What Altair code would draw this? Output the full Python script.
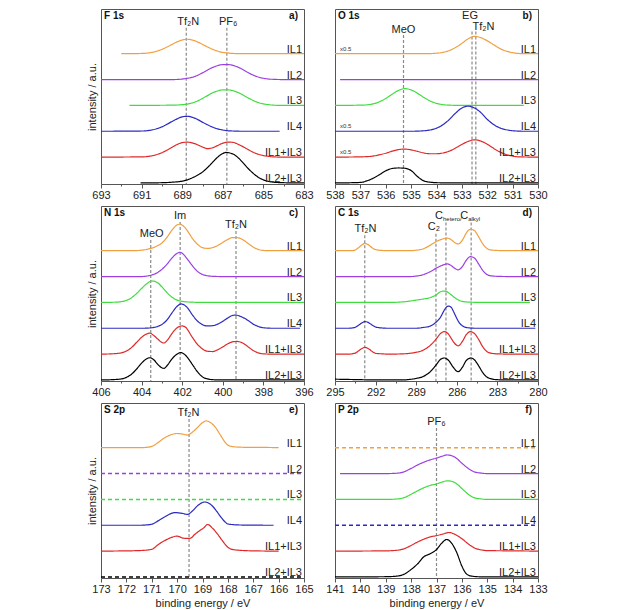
import altair as alt
import pandas as pd

SERIES = ["IL1", "IL2", "IL3", "IL4", "IL1+IL3", "IL2+IL3"]
OFFSETS = [5, 4, 3, 2, 1, 0]
COLORS = ["#f0a040", "#9b40e0", "#40dd40", "#2a2ac0", "#e02828", "#000000"]

PANEL_KEYS = ["F1s", "O1s", "N1s", "C1s", "S2p", "P2p"]
PANEL_NAMES = ["F 1s", "O 1s", "N 1s", "C 1s", "S 2p", "P 2p"]
PANEL_LETTERS = ["a)", "b)", "c)", "d)", "e)", "f)"]
X_DOMAINS = [[693, 683], [538, 530], [406, 396], [295, 280], [173, 165], [141, 133]]
X_TICKS = [
    [693, 691, 689, 687, 685, 683],
    [538, 537, 536, 535, 534, 533, 532, 531, 530],
    [406, 404, 402, 400, 398, 396],
    [295, 292, 289, 286, 283, 280],
    [173, 172, 171, 170, 169, 168, 167, 166, 165],
    [141, 140, 139, 138, 137, 136, 135, 134, 133],
]
X_MINOR_TICKS = [
    [692, 690, 688, 686, 684],
    [537.5, 536.5, 535.5, 534.5, 533.5, 532.5, 531.5, 530.5],
    [405, 403, 401, 399, 397],
    [293.5, 290.5, 287.5, 284.5, 281.5],
    [172.5, 171.5, 170.5, 169.5, 168.5, 167.5, 166.5, 165.5],
    [140.5, 139.5, 138.5, 137.5, 136.5, 135.5, 134.5, 133.5],
]

# ---- F 1s ----
F1S_IL1 = [(692.0, 0), (691.0, 0.01), (690.5, 0.05), (690.25, 0.1), (690.0, 0.17), (689.75, 0.26), (689.5, 0.36), (689.25, 0.46), (689.0, 0.53), (688.75, 0.56), (688.5, 0.53), (688.25, 0.46), (688.0, 0.36), (687.75, 0.26), (687.5, 0.17), (687.25, 0.1), (687.0, 0.05), (686.75, 0.03), (686.5, 0.01), (686.0, 0), (683.0, 0)]
F1S_IL2 = [(693, 0), (689.5, 0), (689, 0.02), (688.75, 0.05), (688.5, 0.09), (688.25, 0.16), (688, 0.26), (687.75, 0.37), (687.5, 0.47), (687.25, 0.54), (687, 0.58), (686.75, 0.58), (686.5, 0.55), (686.25, 0.48), (686, 0.38), (685.75, 0.27), (685.5, 0.17), (685.25, 0.1), (685, 0.05), (684.75, 0.02), (684.5, 0.01), (684, 0), (683, 0)]
F1S_IL3 = [(691.6, 0), (689.5, 0.01), (689, 0.03), (688.75, 0.05), (688.5, 0.1), (688.25, 0.17), (688, 0.27), (687.75, 0.38), (687.5, 0.49), (687.25, 0.56), (687, 0.6), (686.75, 0.6), (686.5, 0.57), (686.25, 0.5), (686, 0.4), (685.75, 0.29), (685.5, 0.19), (685.25, 0.11), (685, 0.06), (684.75, 0.03), (684.5, 0.01), (684, 0), (683, 0)]
F1S_IL4 = [(693, 0), (691, 0.01), (690.5, 0.05), (690.25, 0.1), (690, 0.17), (689.75, 0.27), (689.5, 0.38), (689.25, 0.48), (689, 0.56), (688.75, 0.58), (688.5, 0.54), (688.25, 0.46), (688, 0.35), (687.75, 0.25), (687.5, 0.16), (687.25, 0.09), (687, 0.05), (686.75, 0.02), (686.5, 0.01), (686, 0), (684.2, 0)]
F1S_IL1IL3 = [(693, 0), (691, 0.01), (690.5, 0.05), (690.25, 0.1), (690, 0.17), (689.75, 0.27), (689.5, 0.38), (689.25, 0.49), (689, 0.56), (688.75, 0.58), (688.5, 0.55), (688.25, 0.48), (688, 0.39), (687.75, 0.33), (687.5, 0.36), (687.25, 0.45), (687, 0.54), (686.75, 0.58), (686.5, 0.57), (686.25, 0.5), (686, 0.4), (685.75, 0.29), (685.5, 0.19), (685.25, 0.11), (685, 0.06), (684.75, 0.03), (684.5, 0.01), (684, 0), (683, 0)]
F1S_IL2IL3 = [(691.05, 0), (690, 0.01), (689.5, 0.03), (689, 0.07), (688.75, 0.12), (688.5, 0.2), (688.25, 0.3), (688, 0.42), (687.75, 0.6), (687.5, 0.8), (687.25, 1.0), (687, 1.14), (686.85, 1.18), (686.5, 1.12), (686.25, 0.98), (686, 0.78), (685.75, 0.56), (685.5, 0.37), (685.25, 0.22), (685, 0.12), (684.75, 0.06), (684.5, 0.03), (684, 0.01), (683, 0)]

# ---- O 1s ----
O1S_IL1 = [(538, 0), (534.5, 0), (534, 0.02), (533.75, 0.05), (533.5, 0.12), (533.25, 0.24), (533, 0.4), (532.75, 0.58), (532.5, 0.67), (532.25, 0.62), (532, 0.5), (531.75, 0.35), (531.5, 0.2), (531.25, 0.1), (531, 0.04), (530.75, 0.01), (530.5, 0), (530, 0)]
O1S_IL2 = [(537.8, 0), (530, 0)]
O1S_IL3 = [(538, 0), (537, 0.01), (536.75, 0.02), (536.5, 0.06), (536.25, 0.14), (536, 0.27), (535.75, 0.43), (535.5, 0.58), (535.25, 0.65), (535, 0.6), (534.75, 0.47), (534.5, 0.31), (534.25, 0.17), (534, 0.08), (533.75, 0.03), (533.5, 0.01), (533, 0), (530.56, 0)]
O1S_IL4 = [(538, 0), (535, 0), (534.5, 0.02), (534.25, 0.05), (534, 0.12), (533.75, 0.25), (533.5, 0.45), (533.25, 0.7), (533, 0.9), (532.75, 0.97), (532.5, 0.9), (532.25, 0.72), (532, 0.46), (531.75, 0.26), (531.5, 0.13), (531.25, 0.06), (531, 0.02), (530.5, 0), (530, 0)]
O1S_IL1IL3 = [(538, 0), (537, 0.01), (536.5, 0.04), (536.25, 0.09), (536, 0.15), (535.75, 0.23), (535.5, 0.29), (535.25, 0.31), (535, 0.28), (534.75, 0.22), (534.5, 0.16), (534.25, 0.13), (534, 0.13), (533.75, 0.16), (533.5, 0.23), (533.25, 0.35), (533, 0.49), (532.75, 0.61), (532.5, 0.67), (532.25, 0.62), (532, 0.5), (531.75, 0.34), (531.5, 0.2), (531.25, 0.1), (531, 0.04), (530.75, 0.01), (530, 0)]
O1S_IL2IL3 = [(538, 0), (537, 0.02), (536.75, 0.08), (536.5, 0.18), (536.25, 0.32), (536, 0.47), (535.75, 0.56), (535.5, 0.58), (535.25, 0.57), (535, 0.48), (534.75, 0.25), (534.5, 0.08), (534.25, 0.03), (534, 0.01), (533, 0), (530, 0)]

# ---- N 1s ----
N1S_IL1 = [(406, 0), (404.5, 0), (404, 0.02), (403.75, 0.05), (403.5, 0.1), (403.25, 0.18), (403, 0.3), (402.75, 0.52), (402.5, 0.8), (402.25, 1.0), (402.1, 1.03), (402, 0.99), (401.75, 0.78), (401.5, 0.48), (401.25, 0.25), (401, 0.12), (400.75, 0.09), (400.5, 0.12), (400.25, 0.2), (400, 0.32), (399.75, 0.44), (399.5, 0.51), (399.25, 0.5), (399, 0.42), (398.75, 0.28), (398.5, 0.14), (398.25, 0.05), (398, 0.01), (397.5, 0), (396, 0)]
N1S_IL2 = [(406, 0), (404, 0), (403.75, 0.02), (403.5, 0.06), (403.25, 0.14), (403, 0.28), (402.75, 0.48), (402.5, 0.72), (402.25, 0.9), (402.1, 0.94), (402, 0.9), (401.75, 0.68), (401.5, 0.42), (401.25, 0.2), (401, 0.08), (400.75, 0.03), (400.5, 0.01), (400, 0), (396, 0)]
N1S_IL3 = [(406, 0), (405.25, 0.01), (405, 0.03), (404.75, 0.08), (404.5, 0.18), (404.25, 0.34), (404, 0.54), (403.75, 0.72), (403.5, 0.83), (403.25, 0.78), (403, 0.6), (402.75, 0.38), (402.5, 0.2), (402.25, 0.09), (402, 0.04), (401.5, 0.01), (401, 0), (396, 0)]
N1S_IL4 = [(406, 0), (404, 0), (403.5, 0.02), (403.25, 0.06), (403, 0.15), (402.75, 0.32), (402.5, 0.6), (402.25, 0.85), (402.05, 0.94), (401.75, 0.8), (401.5, 0.52), (401.25, 0.28), (401, 0.14), (400.75, 0.09), (400.5, 0.1), (400.25, 0.16), (400, 0.27), (399.75, 0.4), (399.5, 0.5), (399.35, 0.51), (399.1, 0.45), (398.75, 0.3), (398.5, 0.16), (398.25, 0.07), (398, 0.02), (397.5, 0), (396.2, 0)]
N1S_IL1IL3 = [(406, 0), (405.5, 0.01), (405, 0.05), (404.75, 0.12), (404.5, 0.25), (404.25, 0.45), (404, 0.65), (403.75, 0.78), (403.6, 0.81), (403.4, 0.72), (403.2, 0.58), (403, 0.45), (402.9, 0.43), (402.75, 0.52), (402.5, 0.8), (402.25, 1.02), (402, 1.09), (401.85, 1.05), (401.5, 0.65), (401.25, 0.38), (401, 0.2), (400.75, 0.11), (400.5, 0.1), (400.25, 0.17), (400, 0.28), (399.75, 0.4), (399.5, 0.48), (399.3, 0.49), (399, 0.42), (398.75, 0.28), (398.5, 0.14), (398.25, 0.05), (398, 0.01), (397.5, 0), (396, 0)]
N1S_IL2IL3 = [(406, 0), (405.5, 0.01), (405, 0.04), (404.75, 0.1), (404.5, 0.22), (404.25, 0.42), (404, 0.65), (403.75, 0.82), (403.6, 0.86), (403.4, 0.78), (403.2, 0.6), (403, 0.47), (402.9, 0.45), (402.75, 0.55), (402.5, 0.82), (402.25, 1.0), (402.1, 1.06), (401.9, 1.0), (401.75, 0.88), (401.5, 0.6), (401.25, 0.32), (401, 0.12), (400.75, 0.04), (400.5, 0.01), (400, 0), (396, 0)]

# ---- C 1s ----
C1S_IL1 = [(295, 0), (293.75, 0), (293.5, 0.03), (293.25, 0.12), (293, 0.23), (292.8, 0.28), (292.5, 0.22), (292.25, 0.11), (292, 0.04), (291.5, 0.01), (291, 0), (289.5, 0), (289, 0.02), (288.5, 0.07), (288, 0.2), (287.5, 0.36), (287, 0.46), (286.7, 0.49), (286.4, 0.42), (286.1, 0.3), (285.9, 0.26), (285.6, 0.4), (285.3, 0.68), (285, 0.83), (284.7, 0.78), (284.4, 0.55), (284.1, 0.28), (283.8, 0.1), (283.5, 0.03), (283, 0.01), (282, 0), (280, 0)]
C1S_IL2 = [(295, 0), (289.5, 0), (289, 0.02), (288.5, 0.07), (288, 0.18), (287.5, 0.33), (287, 0.45), (286.7, 0.49), (286.4, 0.42), (286.1, 0.3), (285.9, 0.26), (285.6, 0.38), (285.3, 0.63), (285, 0.77), (284.7, 0.72), (284.4, 0.5), (284.1, 0.25), (283.8, 0.09), (283.5, 0.03), (283, 0.01), (282, 0), (280, 0)]
C1S_IL3 = [(295, 0), (291, 0), (290, 0.02), (289.5, 0.05), (289, 0.09), (288.5, 0.13), (288, 0.18), (287.5, 0.3), (287.25, 0.4), (287, 0.44), (286.8, 0.43), (286.5, 0.33), (286.2, 0.2), (285.9, 0.1), (285.6, 0.04), (285.3, 0.02), (285, 0.01), (284, 0), (280.6, 0)]
C1S_IL4 = [(295, 0), (294, 0), (293.5, 0.04), (293.25, 0.12), (293, 0.21), (292.8, 0.26), (292.6, 0.24), (292.3, 0.14), (292, 0.05), (291.5, 0.01), (291, 0), (289, 0), (288.5, 0.03), (288, 0.08), (287.5, 0.25), (287.2, 0.43), (287, 0.63), (286.8, 0.8), (286.6, 0.86), (286.4, 0.8), (286.2, 0.6), (286, 0.38), (285.8, 0.2), (285.5, 0.07), (285.2, 0.02), (284.5, 0), (280.2, 0)]
C1S_IL1IL3 = [(295, 0), (294, 0), (293.5, 0.04), (293.25, 0.13), (293, 0.22), (292.8, 0.26), (292.5, 0.2), (292.2, 0.08), (292, 0.03), (291.5, 0.01), (291, 0), (290, 0.01), (289.5, 0.03), (289, 0.07), (288.5, 0.15), (288, 0.32), (287.5, 0.6), (287.2, 0.8), (286.9, 0.87), (286.6, 0.76), (286.4, 0.6), (286.2, 0.44), (286, 0.34), (285.9, 0.32), (285.6, 0.48), (285.3, 0.75), (285, 0.87), (284.7, 0.8), (284.4, 0.58), (284.1, 0.3), (283.8, 0.11), (283.5, 0.04), (283, 0.01), (282, 0), (280, 0)]
C1S_IL2IL3 = [(295, 0.03), (294, 0.02), (293, 0.01), (292, 0), (290, 0), (289.5, 0.02), (289, 0.06), (288.5, 0.13), (288, 0.3), (287.5, 0.6), (287.2, 0.8), (286.9, 0.85), (286.6, 0.75), (286.3, 0.52), (286, 0.34), (285.9, 0.32), (285.6, 0.48), (285.3, 0.75), (284.95, 0.85), (284.7, 0.78), (284.4, 0.56), (284.1, 0.3), (283.8, 0.12), (283.5, 0.05), (283, 0.01), (282, 0), (280, 0)]

# ---- S 2p ----
S2P_IL1 = [(173, 0), (171.5, 0), (171.25, 0.01), (171, 0.05), (170.75, 0.2), (170.5, 0.38), (170.25, 0.5), (170, 0.55), (169.75, 0.52), (169.6, 0.49), (169.4, 0.6), (169.2, 0.78), (169, 0.97), (168.85, 1.04), (168.7, 0.98), (168.5, 0.8), (168.3, 0.5), (168.1, 0.2), (168, 0.1), (167.8, 0.04), (167.5, 0.02), (167, 0.01), (166.5, 0.01), (166, 0)]
S2P_IL2 = [(173, 0), (165, 0)]
S2P_IL3 = [(173, 0), (165, 0)]
S2P_IL4 = [(173, 0), (171.5, 0), (171.25, 0.01), (171, 0.04), (170.75, 0.17), (170.5, 0.32), (170.25, 0.45), (170.1, 0.49), (169.8, 0.46), (169.6, 0.42), (169.4, 0.55), (169.2, 0.75), (169, 0.88), (168.9, 0.9), (168.7, 0.82), (168.5, 0.62), (168.3, 0.35), (168.1, 0.12), (168, 0.05), (167.5, 0.01), (166.2, 0)]
S2P_IL1IL3 = [(173, 0), (172, 0.01), (171.5, 0.02), (171, 0.07), (170.75, 0.25), (170.5, 0.4), (170.25, 0.52), (170, 0.58), (169.75, 0.5), (169.5, 0.49), (169.3, 0.65), (169.1, 0.8), (168.95, 0.9), (168.8, 1.03), (168.6, 0.88), (168.4, 0.65), (168.2, 0.38), (168, 0.15), (167.8, 0.06), (167.5, 0.03), (167, 0.01), (166, 0)]
S2P_IL2IL3 = [(173, 0), (165, 0)]

# ---- P 2p ----
P2P_IL1 = [(141, 0), (133, 0)]
P2P_IL2 = [(140.8, 0), (139, 0), (138.5, 0.02), (138.25, 0.08), (138, 0.2), (137.75, 0.33), (137.5, 0.44), (137.25, 0.53), (137, 0.6), (136.75, 0.68), (136.6, 0.72), (136.4, 0.69), (136.2, 0.58), (136, 0.4), (135.75, 0.2), (135.5, 0.06), (135.25, 0.02), (135, 0), (133, 0)]
P2P_IL3 = [(141, 0), (139, 0), (138.5, 0.02), (138.25, 0.08), (138, 0.2), (137.75, 0.33), (137.5, 0.45), (137.25, 0.54), (137, 0.6), (136.75, 0.68), (136.6, 0.72), (136.4, 0.7), (136.2, 0.6), (136, 0.42), (135.75, 0.2), (135.5, 0.06), (135.25, 0.02), (135, 0), (133, 0)]
P2P_IL4 = [(141, 0), (133, 0)]
P2P_IL1IL3 = [(141, 0), (139, 0.01), (138.5, 0.04), (138.25, 0.1), (138, 0.22), (137.75, 0.35), (137.5, 0.46), (137.25, 0.55), (137, 0.6), (136.75, 0.66), (136.5, 0.72), (136.3, 0.66), (136, 0.48), (135.75, 0.28), (135.5, 0.12), (135.25, 0.05), (135, 0.02), (134, 0.01), (133, 0)]
P2P_IL2IL3 = [(141, 0), (139, 0.01), (138.5, 0.04), (138.25, 0.12), (138, 0.29), (137.75, 0.5), (137.5, 0.78), (137.25, 0.9), (137, 1.06), (136.8, 1.3), (136.6, 1.45), (136.4, 1.3), (136.2, 0.94), (136, 0.42), (135.8, 0.1), (135.6, 0.03), (135.4, 0.01), (135, 0), (133, 0)]

CURVES = {
    "F1s": [F1S_IL1, F1S_IL2, F1S_IL3, F1S_IL4, F1S_IL1IL3, F1S_IL2IL3],
    "O1s": [O1S_IL1, O1S_IL2, O1S_IL3, O1S_IL4, O1S_IL1IL3, O1S_IL2IL3],
    "N1s": [N1S_IL1, N1S_IL2, N1S_IL3, N1S_IL4, N1S_IL1IL3, N1S_IL2IL3],
    "C1s": [C1S_IL1, C1S_IL2, C1S_IL3, C1S_IL4, C1S_IL1IL3, C1S_IL2IL3],
    "S2p": [S2P_IL1, S2P_IL2, S2P_IL3, S2P_IL4, S2P_IL1IL3, S2P_IL2IL3],
    "P2p": [P2P_IL1, P2P_IL2, P2P_IL3, P2P_IL4, P2P_IL1IL3, P2P_IL2IL3],
}
DASHED = [("S2p", "IL2"), ("S2p", "IL3"), ("S2p", "IL2+IL3"), ("P2p", "IL1"), ("P2p", "IL4")]

# annotations: (text, subscript, label x, label y, rule x, rule top)
ANNOTATIONS = {
    "F1s": [("Tf₂N", "", 688.7, 6.23, 688.8, 6.0), ("PF₆", "", 686.73, 6.23, 686.8, 6.0)],
    "O1s": [("MeO", "", 535.3, 5.93, 535.3, 5.72), ("EG", "", 532.68, 6.45, 532.6, 5.86), ("Tf₂N", "", 532.15, 6.04, 532.45, 5.86)],
    "N1s": [("MeO", "", 403.5, 5.66, 403.55, 5.41), ("Im", "", 402.1, 6.35, 402.1, 6.11), ("Tf₂N", "", 399.35, 6.01, 399.35, 5.76)],
    "C1s": [("Tf₂N", "", 292.75, 5.83, 292.8, 5.6), ("C₂", "", 287.7, 5.92, 287.54, 5.66),
            ("C", "hetero/", 286.8, 6.35, 286.8, 6.09), ("C", "alkyl", 284.94, 6.35, 284.94, 6.09)],
    "S2p": [("Tf₂N", "", 169.55, 6.35, 169.53, 6.11)],
    "P2p": [("PF₆", "", 137.0, 6.01, 137.0, 5.76)],
}
SCALED = {"O1s": [("x0.5", 537.8, 5.12), ("x0.5", 537.8, 2.12), ("x0.5", 537.8, 1.12)]}

W, H = 203, 175
Y_MIN, Y_MAX = -0.04, 6.73
FONT = "Liberation Sans"

rows = []
for key in PANEL_KEYS:
    for s, off, pts in zip(SERIES, OFFSETS, CURVES[key]):
        dash = "dashed" if (key, s) in DASHED else "solid"
        for j, (x, v) in enumerate(pts):
            rows.append({"panel": key, "series": s, "x": x, "y": v + off, "idx": j, "dash": dash})
curve_df = pd.DataFrame(rows)
label_df = pd.DataFrame({"series": SERIES, "y": OFFSETS})


def panel(i):
    key = PANEL_KEYS[i]
    xs = alt.Scale(domain=X_DOMAINS[i], nice=False, zero=False)
    ys = alt.Scale(domain=[Y_MIN, Y_MAX], nice=False, zero=False)
    major = "indexof(" + str(X_TICKS[i]) + ", datum.value) >= 0"
    xaxis = alt.Axis(values=sorted(X_TICKS[i] + X_MINOR_TICKS[i]), format="d", labelFlush=False,
                     labelOverlap=False, labelExpr=major + " ? datum.label : ''",
                     tickSize={"condition": {"test": major, "value": 4}, "value": 2},
                     domain=False, grid=False, labelPadding=1, titlePadding=3,
                     title=("binding energy / eV" if i >= 4 else None))
    if i % 2 == 0:
        yaxis = alt.Axis(title="intensity / a.u.", labels=False, ticks=False, domain=False,
                         grid=False, titlePadding=4)
    else:
        yaxis = None
    X = lambda f: alt.X(f, type="quantitative", scale=xs, axis=xaxis)
    Y = lambda f: alt.Y(f, type="quantitative", scale=ys, axis=yaxis)

    d = curve_df[curve_df.panel == key]
    lines = alt.Chart(d).mark_line(interpolate="monotone").encode(
        x=X("x"), y=Y("y"),
        color=alt.Color("series:N", scale=alt.Scale(domain=SERIES, range=COLORS), legend=None),
        strokeDash=alt.StrokeDash("dash:N", scale=alt.Scale(domain=["solid", "dashed"], range=[[1, 0], [4, 3]]), legend=None),
        strokeWidth=alt.StrokeWidth("dash:N", scale=alt.Scale(domain=["solid", "dashed"], range=[1.2, 1.5]), legend=None),
        detail="series:N",
        order="idx:Q",
    )
    ann = pd.DataFrame(ANNOTATIONS[key], columns=["text", "sub", "lx", "ly", "rx", "rtop"])
    ann["rbot"] = Y_MIN
    rules = alt.Chart(ann).mark_rule(strokeDash=[3, 2], color="#8a8a8a", strokeWidth=1.2).encode(
        x=X("rx"), y=Y("rtop"), y2="rbot:Q")
    plain = alt.Chart(ann[ann["sub"] == ""]).mark_text(fontSize=11, color="#222", baseline="middle").encode(
        x=X("lx"), y=Y("ly"), text="text:N")
    layers = [rules, lines, plain]
    subs = ann[ann["sub"] != ""]
    if len(subs):
        layers.append(alt.Chart(subs).mark_text(fontSize=11, color="#222", baseline="middle", align="right", dx=-3).encode(
            x=X("lx"), y=Y("ly"), text="text:N"))
        layers.append(alt.Chart(subs).mark_text(fontSize=6, color="#222", baseline="middle", align="left", dx=-3, dy=3).encode(
            x=X("lx"), y=Y("ly"), text="sub:N"))
    if key in SCALED:
        sc = pd.DataFrame(SCALED[key], columns=["text", "x", "y"])
        layers.append(alt.Chart(sc).mark_text(fontSize=6, color="#333", align="left", baseline="alphabetic").encode(
            x=X("x"), y=Y("y"), text="text:N"))
    layers.append(alt.Chart(label_df).mark_text(fontSize=11, color="#222", align="right", baseline="alphabetic", dy=-1).encode(
        x=alt.value(W - 2), y=Y("y"), text="series:N"))
    title_df = pd.DataFrame({"name": [PANEL_NAMES[i]], "letter": [PANEL_LETTERS[i]]})
    layers.append(alt.Chart(title_df).mark_text(fontSize=10, fontWeight="bold", color="#111", align="left", baseline="middle").encode(
        x=alt.value(3), y=alt.value(7), text="name:N"))
    layers.append(alt.Chart(title_df).mark_text(fontSize=10, fontWeight="bold", color="#111", align="right", baseline="middle").encode(
        x=alt.value(W - 6), y=alt.value(7), text="letter:N"))
    return alt.layer(*layers).properties(width=W, height=H)


grid_rows = [alt.hconcat(panel(0), panel(1), spacing=11),
             alt.hconcat(panel(2), panel(3), spacing=11),
             alt.hconcat(panel(4), panel(5), spacing=11)]
chart = alt.vconcat(*grid_rows, spacing=4).properties(
    padding={"left": 77, "top": 0, "right": 0, "bottom": 0}
).configure_view(stroke="#555", strokeWidth=1).configure_axis(
    labelFont=FONT, labelFontSize=11, labelColor="#222", titleFont=FONT, titleFontSize=11,
    titleFontWeight="normal", titleColor="#222", tickColor="#555"
).configure_text(font=FONT)

chart.save("out.html", embed_options={"renderer": "svg", "actions": False})
